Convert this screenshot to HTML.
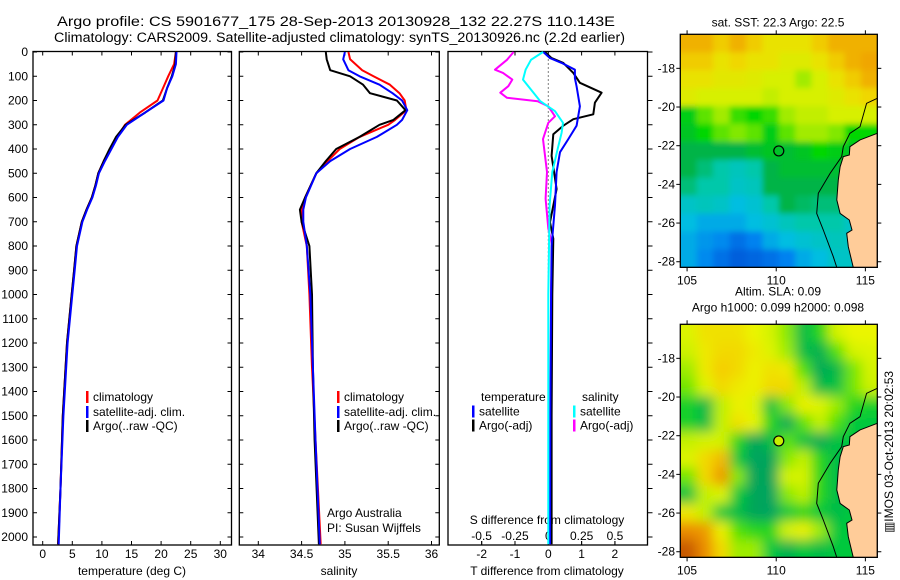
<!DOCTYPE html>
<html><head><meta charset="utf-8"><style>
html,body{margin:0;padding:0;background:#fff;}
svg{display:block;font-family:"Liberation Sans",sans-serif;font-size:12px;}
</style></head><body>
<svg id="fig" width="900" height="580" viewBox="0 0 900 580" xmlns="http://www.w3.org/2000/svg">
<text x="336" y="26" text-anchor="middle" font-size="13.5" textLength="558" lengthAdjust="spacingAndGlyphs">Argo profile: CS 5901677_175 28-Sep-2013 20130928_132 22.27S 110.143E</text>
<text x="339.5" y="42" text-anchor="middle" font-size="13.5" textLength="571" lengthAdjust="spacingAndGlyphs">Climatology: CARS2009. Satellite-adjusted climatology: synTS_20130926.nc (2.2d earlier)</text>
<g id="g1"></g>
<g id="g2"></g>
<g id="g3"></g>
<g id="m1"></g>
<g id="m2"></g>
<text x="893" y="452" text-anchor="middle" transform="rotate(-90 893 452)">▥IMOS 03-Oct-2013 20:02:53</text>
</svg>
<script>
// ---------- data ----------
const depthTicks=[0,100,200,300,400,500,600,700,800,900,1000,1100,1200,1300,1400,1500,1600,1700,1800,1900,2000];
const tTicks=[0,5,10,15,20,25,30];
const sTicks=[34,34.5,35,35.5,36];
const sTickLabels=["34","34.5","35","35.5","36"];
const dtTicks=[-2,-1,0,1,2];
const dsTicks=[-0.5,-0.25,0,0.25,0.5];
const dsTickLabels=["-0.5","-0.25","0","0.25","0.5"];

const tDepth=[0,50,100,150,200,250,300,350,400,450,500,550,600,650,700,800,900,1000,1200,1500,1800,2030];
const tClim=[22.5,22.2,21.2,20.3,19.4,16.4,13.9,12.6,11.4,10.3,9.4,8.9,8.3,7.4,6.6,5.7,5.3,4.9,4.1,3.4,3.0,2.6];
const tSat=[22.6,22.5,21.9,21.0,20.4,17.3,14.2,12.7,11.6,10.5,9.5,9.0,8.4,7.5,6.7,5.8,5.4,5.0,4.2,3.5,3.0,2.7];
const tArgo=[22.5,22.4,21.8,21.0,20.3,17.3,14.0,12.4,11.3,10.3,9.4,8.9,8.3,7.4,6.6,5.7,5.3,4.9,4.1,3.4,3.0,2.6];

const sDepth=[0,30,75,100,135,170,200,240,280,300,350,400,450,500,600,650,700,800,1000,1300,1600,2030];
const sClim=[35.04,35.06,35.2,35.33,35.52,35.63,35.69,35.71,35.58,35.5,35.17,34.94,34.8,34.67,34.54,34.5,34.5,34.56,34.59,34.62,34.66,34.72];
const sSat=[35.0,34.98,35.04,35.17,35.4,35.55,35.66,35.72,35.66,35.6,35.37,35.06,34.83,34.67,34.55,34.52,34.52,34.56,34.6,34.63,34.66,34.71];
const sArgo=[34.78,34.79,34.83,35.06,35.21,35.29,35.6,35.7,35.56,35.4,35.17,34.9,34.78,34.67,34.54,34.48,34.5,34.59,34.62,34.63,34.65,34.7];

const dTArgoDepth=[0,25,45,86,127,168,209,257,277,304,339,428,565,702,770,1000,1500,2030];
const dTArgo=[-0.1,0.1,0.45,0.75,0.95,1.6,1.4,1.35,0.75,0.45,0.15,0.1,0.25,0.05,0.15,0.12,0.1,0.1];
const dTSatDepth=[0,25,45,73,108,142,224,304,359,413,495,632,800,1043,1500,2030];
const dTSat=[-0.15,0.05,0.4,0.8,0.8,0.85,0.95,0.85,0.6,0.35,0.25,0.2,0.1,0.08,0.06,0.05];
const dSSatDepth=[0,32,73,114,155,203,244,292,333,401,495,632,1000,2030];
const dSSat=[-0.04,-0.13,-0.17,-0.19,-0.13,-0.06,0.05,0.11,0.1,0.07,0.03,0.01,0,0];
const dSArgoDepth=[0,32,73,86,114,141,168,189,203,224,265,292,359,495,605,728,800,1000,2030];
const dSArgo=[-0.26,-0.31,-0.4,-0.34,-0.27,-0.3,-0.36,-0.31,-0.08,0,0.05,0,-0.04,-0.01,-0.02,0,0.03,0.02,0.02];

const sstGrid=[
[0.95,0.95,0.9,0.95,0.9,0.85,0.85,0.85,0.9,0.95,0.95,0.95],
[0.9,0.9,0.85,0.88,0.85,0.85,0.82,0.82,0.85,0.9,0.95,0.97],
[0.85,0.85,0.83,0.83,0.82,0.8,0.8,0.75,0.8,0.85,0.9,0.95],
[0.82,0.8,0.8,0.8,0.8,0.78,0.8,0.8,0.8,0.82,0.85,0.88],
[0.62,0.7,0.75,0.68,0.65,0.68,0.75,0.78,0.78,0.8,0.8,0.8],
[0.6,0.65,0.7,0.72,0.7,0.62,0.7,0.75,0.75,0.72,0.65,0.65],
[0.55,0.55,0.55,0.55,0.58,0.6,0.58,0.6,0.65,0.62,0.6,0.6],
[0.55,0.5,0.45,0.42,0.45,0.55,0.58,0.58,0.58,0.58,0.6,0.6],
[0.5,0.45,0.45,0.4,0.42,0.55,0.55,0.55,0.55,0.55,0.6,0.6],
[0.4,0.42,0.4,0.35,0.38,0.45,0.55,0.52,0.5,0.5,0.45,0.45],
[0.35,0.3,0.3,0.3,0.35,0.38,0.42,0.45,0.45,0.45,0.4,0.4],
[0.3,0.25,0.22,0.15,0.2,0.3,0.35,0.38,0.4,0.42,0.4,0.4],
[0.3,0.22,0.15,0.1,0.12,0.15,0.2,0.3,0.35,0.4,0.4,0.4]];
const slaGrid=[
[0.72,0.8,0.8,0.8,0.75,0.7,0.6,0.4,0.5,0.7,0.75,0.75],
[0.68,0.78,0.82,0.82,0.78,0.72,0.62,0.4,0.35,0.55,0.7,0.72],
[0.62,0.78,0.85,0.82,0.76,0.8,0.78,0.55,0.32,0.38,0.58,0.7],
[0.58,0.72,0.82,0.78,0.76,0.82,0.82,0.65,0.4,0.42,0.58,0.68],
[0.48,0.38,0.65,0.76,0.72,0.42,0.6,0.76,0.72,0.62,0.5,0.48],
[0.48,0.4,0.66,0.8,0.74,0.5,0.32,0.56,0.66,0.55,0.45,0.45],
[0.66,0.7,0.7,0.5,0.3,0.4,0.56,0.42,0.32,0.42,0.45,0.45],
[0.72,0.82,0.88,0.45,0.25,0.3,0.6,0.66,0.5,0.4,0.45,0.45],
[0.58,0.82,0.93,0.6,0.3,0.3,0.7,0.7,0.5,0.4,0.45,0.45],
[0.42,0.66,0.72,0.45,0.3,0.25,0.6,0.65,0.5,0.4,0.45,0.45],
[0.78,0.66,0.45,0.4,0.3,0.25,0.45,0.5,0.45,0.4,0.45,0.45],
[0.95,0.93,0.76,0.55,0.5,0.5,0.7,0.76,0.62,0.45,0.45,0.45],
[1.0,0.95,0.82,0.62,0.62,0.45,0.35,0.45,0.4,0.45,0.45,0.45]];
const lonTicks=[105,110,115];
const latTicks=[18,20,22,24,26,28];
const landLon=[115.67,114.7,114.13,114.1,113.76,113.58,113.48,113.4,113.58,114.1,114.25,113.95,114.04,114.32,115.67];
const landLat=[21.36,21.7,22.05,22.48,22.57,23.09,23.77,24.8,25.5,25.84,26.36,26.53,27.22,28.3,28.3];
const isoLon=[115.67,115.07,114.7,114.13,113.76,113.67,113.02,112.36,112.27,112.64,113.2,113.4];
const isoLat=[19.55,19.81,21.02,21.36,22.05,22.57,23.43,24.46,25.5,26.36,27.74,28.3];
const argoLon=110.143, argoLat=22.27;

// ---------- helpers ----------
const NS="http://www.w3.org/2000/svg";
function mk(parent,tag,attrs,txt){const e=document.createElementNS(NS,tag);for(const k in attrs)e.setAttribute(k,attrs[k]);if(txt!==undefined)e.textContent=txt;parent.appendChild(e);return e;}
const yD=d=>52+d*0.2425;
const TOP=51.5,BOT=545;

function frame(g,x0,x1){
  const r=mk(g,'rect',{x:x0,y:TOP,width:x1-x0,height:BOT-TOP,fill:'none',stroke:'#000','stroke-width':1.3});
  
  
}
function line(g,xs,ds,fx,color,name,w){
  const pts=xs.map((v,i)=>fx(v).toFixed(1)+','+yD(ds[i]).toFixed(1)).join(' ');
  const p=mk(g,'polyline',{points:pts,fill:'none',stroke:color,'stroke-width':w||2,'stroke-linejoin':'round'});
  
  
}
function depthTickMarks(g,x0,x1,left,rightOut){
  depthTicks.forEach(d=>{
    const y=yD(d);
    if(left) mk(g,'line',{x1:x0,x2:x0+4,y1:y,y2:y,stroke:'#000'});
    if(rightOut) mk(g,'line',{x1:x1,x2:x1+5,y1:y,y2:y,stroke:'#000'});
    else mk(g,'line',{x1:x1-4,x2:x1,y1:y,y2:y,stroke:'#000'});
  });
}
function legendRow(g,x,y,color,label,name){
  const b=mk(g,'rect',{x:x,y:y-6,width:2.5,height:12,fill:color});
  
  
  const t=mk(g,'text',{x:x+7,y:y+4},label);
  
  
}

// ---------- panel 1: temperature ----------
const g1=document.getElementById('g1');
const fT=t=>42.7+t*5.92;
frame(g1,33,231.5);
depthTicks.forEach(d=>{const t=mk(g1,'text',{x:28,y:yD(d)+4,'text-anchor':'end'},String(d));
  
  });
depthTickMarks(g1,33,231.5,true,false);
tTicks.forEach(v=>{const x=fT(v);mk(g1,'line',{x1:x,x2:x,y1:BOT,y2:BOT-4,stroke:'#000'});mk(g1,'line',{x1:x,x2:x,y1:TOP,y2:TOP+4,stroke:'#000'});
  const t=mk(g1,'text',{x:x,y:558,'text-anchor':'middle'},String(v));
  
  });
(()=>{const t=mk(g1,'text',{x:132,y:575,'text-anchor':'middle'},'temperature (deg C)');
  
  })();
line(g1,tClim,tDepth,fT,'#ff0000','temperature-climatology-line');
line(g1,tArgo,tDepth,fT,'#000000','temperature-argo-line');
line(g1,tSat,tDepth,fT,'#0000ff','temperature-satellite-line');
legendRow(g1,86,397,'#ff0000','climatology','legend-climatology');
legendRow(g1,86,412,'#0000ff','satellite-adj. clim.','legend-satellite');
legendRow(g1,86,426,'#000000','Argo(..raw -QC)','legend-argo');

// ---------- panel 2: salinity ----------
const g2=document.getElementById('g2');
const fS=s=>258.3+(s-34)*86.6;
frame(g2,239.3,439.3);
depthTickMarks(g2,239.3,439.3,true,false);
sTicks.forEach((v,i)=>{const x=fS(v);mk(g2,'line',{x1:x,x2:x,y1:BOT,y2:BOT-4,stroke:'#000'});mk(g2,'line',{x1:x,x2:x,y1:TOP,y2:TOP+4,stroke:'#000'});
  const t=mk(g2,'text',{x:x,y:558,'text-anchor':'middle'},sTickLabels[i]);
  
  });
(()=>{const t=mk(g2,'text',{x:339,y:575,'text-anchor':'middle'},'salinity');
  
  })();
line(g2,sClim,sDepth,fS,'#ff0000','salinity-climatology-line');
line(g2,sArgo,sDepth,fS,'#000000','salinity-argo-line');
line(g2,sSat,sDepth,fS,'#0000ff','salinity-satellite-line');
legendRow(g2,337,397,'#ff0000','climatology','legend-climatology');
legendRow(g2,337,412,'#0000ff','satellite-adj. clim.','legend-satellite');
legendRow(g2,337,426,'#000000','Argo(..raw -QC)','legend-argo');
(()=>{let t=mk(g2,'text',{x:327,y:517},'Argo Australia');
  
  
  t=mk(g2,'text',{x:327,y:532},'PI: Susan Wijffels');
  
  })();

// ---------- panel 3: differences ----------
const g3=document.getElementById('g3');
const fdT=v=>548.3+v*33.3;
const fdS=v=>548.3+v*133.3;
frame(g3,448,647.5);
depthTickMarks(g3,448,647.5,false,true);
dtTicks.forEach(v=>{const x=fdT(v);mk(g3,'line',{x1:x,x2:x,y1:BOT,y2:BOT-4,stroke:'#000'});mk(g3,'line',{x1:x,x2:x,y1:TOP,y2:TOP+4,stroke:'#000'});
  const t=mk(g3,'text',{x:x,y:558,'text-anchor':'middle'},String(v));
  
  });
dsTicks.forEach((v,i)=>{const x=fdS(v);mk(g3,'line',{x1:x,x2:x,y1:541,y2:545,stroke:'#000'});
  const t=mk(g3,'text',{x:x,y:540,'text-anchor':'middle'},dsTickLabels[i]);
  
  });
(()=>{let t=mk(g3,'text',{x:547,y:524,'text-anchor':'middle'},'S difference from climatology');
  
  
  t=mk(g3,'text',{x:547,y:575,'text-anchor':'middle'},'T difference from climatology');
  
  })();
(()=>{const z=mk(g3,'line',{x1:fdT(0),x2:fdT(0),y1:TOP,y2:BOT,stroke:'#000','stroke-dasharray':'1 3'});
  
  })();
line(g3,dSArgo,dSArgoDepth,fdS,'#ff00ff','s-diff-argo-line');
line(g3,dTArgo,dTArgoDepth,fdT,'#000000','t-diff-argo-line');
line(g3,dTSat,dTSatDepth,fdT,'#0000ff','t-diff-satellite-line');
line(g3,dSSat,dSSatDepth,fdS,'#00ffff','s-diff-satellite-line');
(()=>{let t=mk(g3,'text',{x:481,y:401},'temperature');
  
  
  t=mk(g3,'text',{x:582,y:401},'salinity');
  
  })();
legendRow(g3,472,411.5,'#0000ff','satellite','legend-t-satellite');
legendRow(g3,472,425.5,'#000000','Argo(-adj)','legend-t-argo');
legendRow(g3,573,411.5,'#00ffff','satellite','legend-s-satellite');
legendRow(g3,573,425.5,'#ff00ff','Argo(-adj)','legend-s-argo');

// ---------- maps ----------
const LON0=104.62,LON1=115.67,LAT0=16.24,LAT1=28.29;
const mx=lon=>680.3+(lon-LON0)*17.83;
function lerpColor(stops,v){
  v=Math.max(0,Math.min(1,v));
  for(let i=1;i<stops.length;i++){if(v<=stops[i][0]){const a=stops[i-1],b=stops[i],t=(v-a[0])/(b[0]-a[0]||1);
    const c=a[1].map((q,k)=>Math.round(q+(b[1][k]-q)*t));return 'rgb('+c.join(',')+')';}}
  return 'rgb('+stops[stops.length-1][1].join(',')+')';
}
const sstStops=[[0,[0,60,200]],[0.2,[0,130,240]],[0.35,[0,190,225]],[0.45,[0,200,170]],[0.55,[0,180,70]],[0.65,[0,215,0]],[0.72,[130,232,0]],[0.8,[215,240,0]],[0.87,[240,220,0]],[1,[240,150,0]]];
const slaStops=[[0,[0,160,120]],[0.3,[0,165,90]],[0.45,[0,200,60]],[0.55,[80,225,0]],[0.65,[190,240,0]],[0.75,[235,245,0]],[0.85,[245,205,0]],[0.95,[235,140,0]],[1,[200,90,0]]];
function drawMap(id,top,grid,stops,title1,title2,circleFill,blur){
  const g=document.getElementById(id);
  const my=lat=>top+(lat-LAT0)*19.34;
  const bottom=my(LAT1);
  const cid='clip'+id, fid='blur'+id;
  const defs=mk(g,'defs',{});
  const cp=mk(defs,'clipPath',{id:cid});
  mk(cp,'rect',{x:mx(LON0),y:top,width:mx(LON1)-mx(LON0),height:bottom-top});
  const fl=mk(defs,'filter',{id:fid,filterUnits:'userSpaceOnUse',x:mx(LON0)-40,y:top-40,width:mx(LON1)-mx(LON0)+80,height:bottom-top+80});
  mk(fl,'feGaussianBlur',{stdDeviation:blur});
  const outer=mk(g,'g',{'clip-path':'url(#'+cid+')'});
  const inner=mk(outer,'g',{filter:'url(#'+fid+')'});
  const nr=grid.length,nc=grid[0].length,dlon=(LON1-LON0)/nc,dlat=(LAT1-LAT0)/nr;
  const pad=20;
  grid.forEach((row,r)=>row.forEach((v,c)=>{
    let x=mx(LON0+c*dlon),y=my(LAT0+r*dlat),w=dlon*17.83+0.6,h=dlat*19.34+0.6;
    if(c===0){x-=pad;w+=pad;} if(c===nc-1){w+=pad;}
    if(r===0){y-=pad;h+=pad;} if(r===nr-1){h+=pad;}
    const cell=mk(inner,'rect',{x:x.toFixed(1),y:y.toFixed(1),width:w.toFixed(1),height:h.toFixed(1),fill:lerpColor(stops,v)});
    
    
  }));
  const land=mk(outer,'polygon',{points:landLon.map((l,i)=>mx(l).toFixed(1)+','+my(landLat[i]).toFixed(1)).join(' '),fill:'#ffcc99',stroke:'#000','stroke-width':1});
  
  
  const iso=mk(outer,'polyline',{points:isoLon.map((l,i)=>mx(l).toFixed(1)+','+my(isoLat[i]).toFixed(1)).join(' '),fill:'none',stroke:'#000','stroke-width':1});
  
  
  const c=mk(g,'circle',{cx:mx(argoLon),cy:my(argoLat),r:5,fill:circleFill,stroke:'#000','stroke-width':1.2});
  
  
  const fr=mk(g,'rect',{x:mx(LON0),y:top,width:mx(LON1)-mx(LON0),height:bottom-top,fill:'none',stroke:'#000','stroke-width':1.3});
  
  
  lonTicks.forEach(l=>{const x=mx(l);mk(g,'line',{x1:x,x2:x,y1:top,y2:top-4,stroke:'#000'});mk(g,'line',{x1:x,x2:x,y1:bottom,y2:bottom+4,stroke:'#000'});
    const t=mk(g,'text',{x:x,y:bottom+17,'text-anchor':'middle'},String(l));
    
    });
  latTicks.forEach(l=>{const y=my(l);mk(g,'line',{x1:mx(LON0),x2:mx(LON0)-4,y1:y,y2:y,stroke:'#000'});mk(g,'line',{x1:mx(LON1),x2:mx(LON1)+4,y1:y,y2:y,stroke:'#000'});
    const t=mk(g,'text',{x:675,y:y+4,'text-anchor':'end'},'-'+l);
    
    });
  let t=mk(g,'text',{x:778,y:title2?top-29:top-8,'text-anchor':'middle'},title1);
  
  
  if(title2){t=mk(g,'text',{x:778,y:top-13,'text-anchor':'middle'},title2);
    
    }
}
drawMap('m1',34.3,sstGrid,sstStops,'sat. SST: 22.3 Argo: 22.5',null,'none',3);
drawMap('m2',324.3,slaGrid,slaStops,'Altim. SLA: 0.09','Argo h1000: 0.099 h2000: 0.098','#c8f000',6);
</script>
</body></html>
